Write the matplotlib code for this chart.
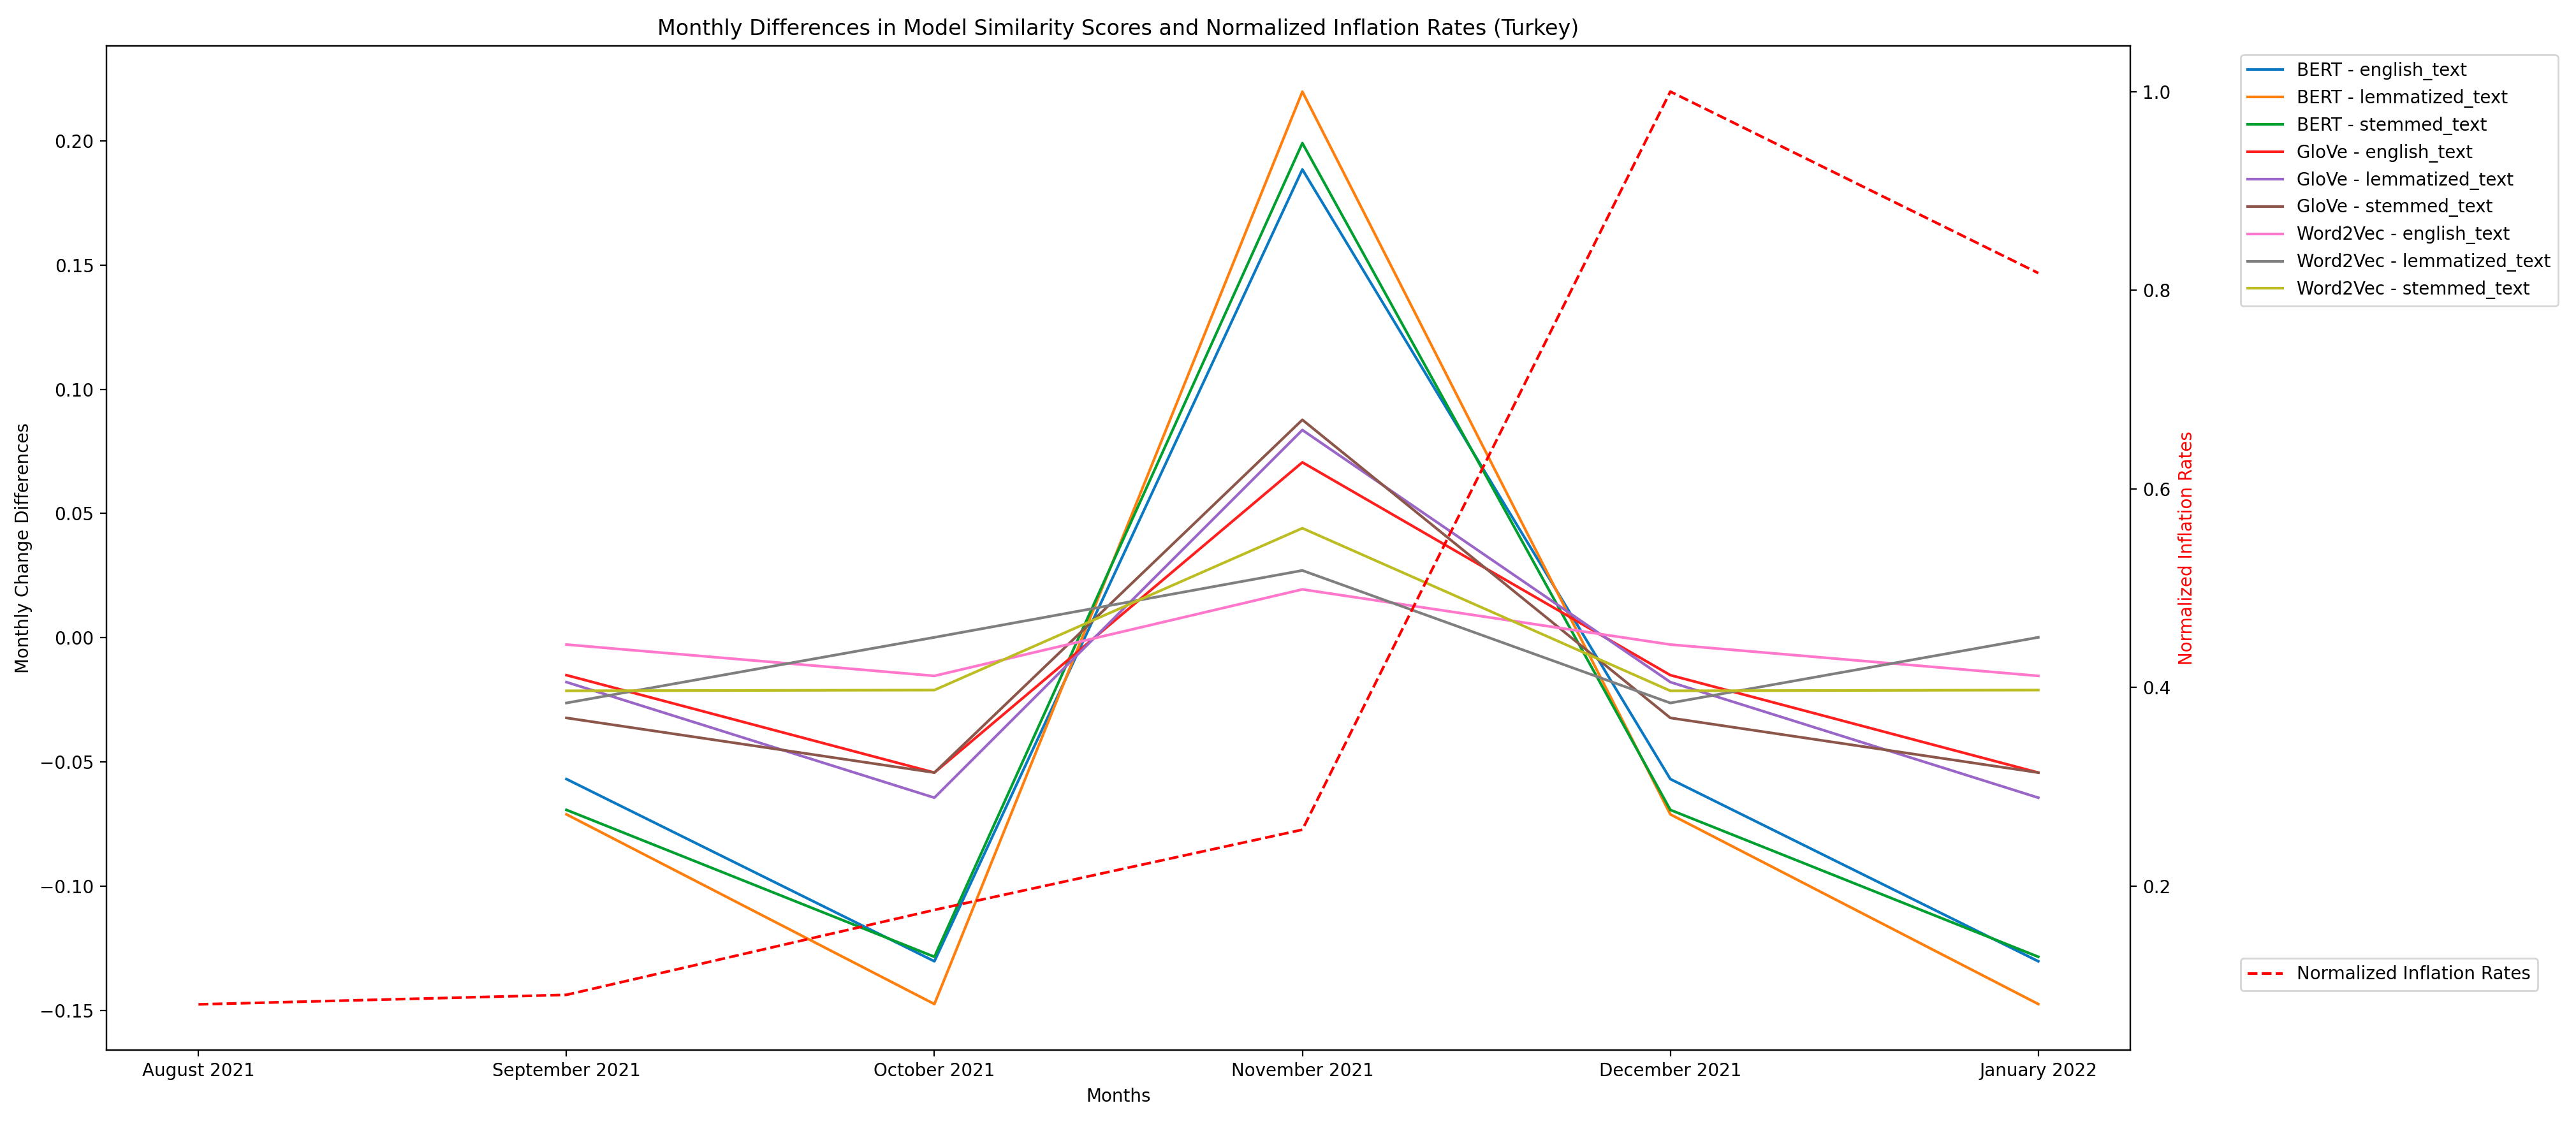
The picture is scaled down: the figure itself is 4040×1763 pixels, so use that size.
import matplotlib
matplotlib.use("Agg")
import matplotlib.pyplot as plt

months = ["August 2021", "September 2021", "October 2021", "November 2021",
          "December 2021", "January 2022"]

series_labels = [
    "BERT - english_text", "BERT - lemmatized_text", "BERT - stemmed_text",
    "GloVe - english_text", "GloVe - lemmatized_text", "GloVe - stemmed_text",
    "Word2Vec - english_text", "Word2Vec - lemmatized_text", "Word2Vec - stemmed_text",
]

# monthly change differences (September 2021 .. January 2022)
bert_english = [-0.0568, -0.1301, 0.1884, -0.0568, -0.1301]
bert_lemmatized = [-0.0710, -0.1473, 0.2197, -0.0710, -0.1473]
bert_stemmed = [-0.0692, -0.1283, 0.1990, -0.0692, -0.1283]
glove_english = [-0.0150, -0.0542, 0.0706, -0.0150, -0.0542]
glove_lemmatized = [-0.0178, -0.0643, 0.0836, -0.0178, -0.0643]
glove_stemmed = [-0.0322, -0.0542, 0.0877, -0.0322, -0.0542]
w2v_english = [-0.0027, -0.0153, 0.0195, -0.0027, -0.0153]
w2v_lemmatized = [-0.0262, 0.0002, 0.0271, -0.0262, 0.0002]
w2v_stemmed = [-0.0213, -0.0210, 0.0441, -0.0213, -0.0210]

inflation_normalized = [0.0807, 0.0903, 0.1758, 0.2566, 1.0, 0.8172]

series_values = [bert_english, bert_lemmatized, bert_stemmed,
                 glove_english, glove_lemmatized, glove_stemmed,
                 w2v_english, w2v_lemmatized, w2v_stemmed]

colors = ["#0a78c2", "#ff7f0e", "#00a030", "#ff1f1f", "#9a66c8",
          "#8c564b", "#ff78cc", "#7f7f7f", "#bcbd22"]

plt.rcParams["font.family"] = ["DejaVu Sans"]
plt.rcParams["font.size"] = 10

W, H, DPI = 4041, 1763, 200
fig = plt.figure(figsize=(W / DPI, H / DPI), dpi=DPI)
ax = fig.add_axes([167 / W, (H - 1647) / H, (3341 - 167) / W, (1647 - 72) / H])

x_all = list(range(len(months)))
x_diff = x_all[1:]

for label, vals, c in zip(series_labels, series_values, colors):
    ax.plot(x_diff, vals, color=c, label=label, linewidth=1.5)

ax2 = ax.twinx()
ax2.plot(x_all, inflation_normalized, "r--", label="Normalized Inflation Rates", linewidth=1.5)

ax.set_xticks(x_all)
ax.set_xticklabels(months)
ax.set_xlabel("Months")
ax.set_ylabel("Monthly Change Differences")
ax2.set_ylabel("Normalized Inflation Rates", color="red")
ax.set_title("Monthly Differences in Model Similarity Scores and Normalized Inflation Rates (Turkey)",
             fontsize=12)

ax.set_xlim(-0.25, 5.25)
ax.set_ylim(-0.1658, 0.2381)
ax2.set_ylim(0.0347, 1.0460)
ax2.set_yticks([0.2, 0.4, 0.6, 0.8, 1.0])

ax.legend(loc="upper left", bbox_to_anchor=(1.05, 1))
ax2.legend(loc="upper left", bbox_to_anchor=(1.05, 0.1))

fig.savefig("out.png", dpi=DPI)
